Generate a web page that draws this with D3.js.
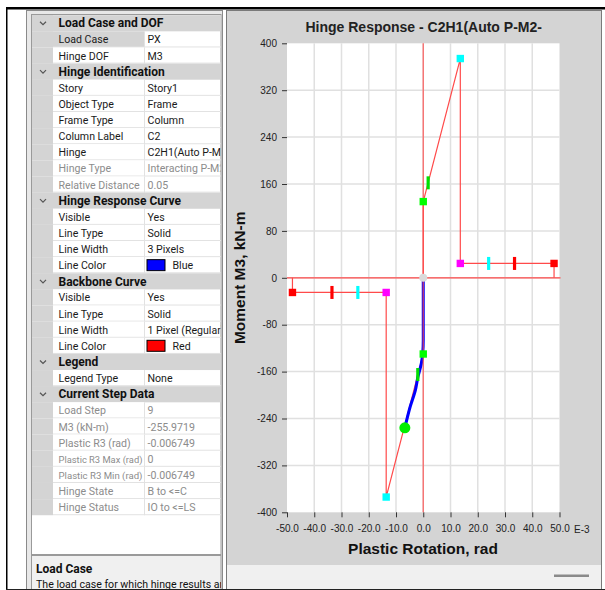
<!DOCTYPE html>
<html>
<head>
<meta charset="utf-8">
<script src="https://cdn.jsdelivr.net/npm/d3@7"></script>
<style>
  body { margin: 0; background: #fff; }
  svg { display: block; }
  .grid-txt { font-family: Roboto, "Noto Sans", sans-serif; font-size: 10.6px; }
  .grid-head { font-family: Roboto, "Noto Sans", sans-serif; font-size: 12px; font-weight: bold; }
  .axis text { font-family: "Liberation Sans", Arial, sans-serif; font-size: 10px; fill: #222; }
  .axis line { stroke: #333; }
</style>
</head>
<body>
<svg id="chart" width="605" height="590"></svg>
<script>
// property grid rows: kind (h = section, r = row, d = read-only row, c = colour row), name, value
let gridRows = [
  ["h", "Load Case and DOF"],
  ["r", "Load Case", "PX"],
  ["r", "Hinge DOF", "M3"],
  ["h", "Hinge Identification"],
  ["r", "Story", "Story1"],
  ["r", "Object Type", "Frame"],
  ["r", "Frame Type", "Column"],
  ["r", "Column Label", "C2"],
  ["r", "Hinge", "C2H1(Auto P-M2-M3)"],
  ["d", "Hinge Type", "Interacting P-M2-M3"],
  ["d", "Relative Distance", "0.05"],
  ["h", "Hinge Response Curve"],
  ["r", "Visible", "Yes"],
  ["r", "Line Type", "Solid"],
  ["r", "Line Width", "3 Pixels"],
  ["c", "Line Color", "Blue"],
  ["h", "Backbone Curve"],
  ["r", "Visible", "Yes"],
  ["r", "Line Type", "Solid"],
  ["r", "Line Width", "1 Pixel (Regular)"],
  ["c", "Line Color", "Red"],
  ["h", "Legend"],
  ["r", "Legend Type", "None"],
  ["h", "Current Step Data"],
  ["d", "Load Step", "9"],
  ["d", "M3 (kN-m)", "-255.9719"],
  ["d", "Plastic R3 (rad)", "-0.006749"],
  ["d", "Plastic R3 Max (rad)", "0"],
  ["d", "Plastic R3 Min (rad)", "-0.006749"],
  ["d", "Hinge State", "B to <=C"],
  ["d", "Hinge Status", "IO to <=LS"]
]
let helpTitle = "Load Case"
let helpText = "The load case for which hinge results are displayed."

// chart texts and ticks
let chartTitle = "Hinge Response - C2H1(Auto P-M2-"
let xTitle = "Plastic Rotation, rad"
let yTitle = "Moment M3, kN-m"
let xUnit = "E-3"
let xTicks = [-50, -40, -30, -20, -10, 0, 10, 20, 30, 40, 50]
let yTicks = [-400, -320, -240, -160, -80, 0, 80, 160, 240, 320, 400]

// backbone curve (rotation in E-3 rad, moment kN-m)
let backboneRot = [-48, -48, -13.6, -13.6, 0, 0, 0, 13.6, 13.6, 48, 48]
let backboneM = [0, -25, -25, -374, -130, 0, 130, 374, 24.5, 24.5, 0]

// hinge response curve
let responseRot = [0, 0, -0.2, -0.7, -1.95, -2.9, -4.8, -6.749]
let responseM = [0, -107, -129, -146, -169, -192, -220, -255.9719]

// backbone point markers (squares)
let squareRot = [0, 0, 13.6, -13.6, 13.6, -13.6, 48, -48]
let squareM = [130, -130, 374, -374, 24.5, -25, 24.5, -25]
let squareKind = ["B", "B", "C", "C", "D", "D", "E", "E"]

// acceptance criteria bars
let barRot = [1.8, -2, 24, -24, 33.5, -33.5]
let barM = [162, -165, 24.5, -25, 24.5, -25]
let barKind = ["IO", "IO", "LS", "LS", "CP", "CP"]

// current step
let stepRot = -6.749
let stepM = -255.9719

let kindColor = { B: "#00ff00", C: "#00ffff", D: "#ff00ff", E: "#ff0000", IO: "#00e000", LS: "#00ffff", CP: "#ff0000" }
let swatchColor = { Blue: "#0000ff", Red: "#ff0000" }

let hyphen = f => (d => f(d).replace("\u2212", "-"))

let svg = d3.select("#chart")

// ---------- outer frame ----------
svg.append("rect").attr("x", 6).attr("y", 7).attr("width", 599).attr("height", 2.5).attr("fill", "#000")
svg.append("rect").attr("x", 6).attr("y", 7).attr("width", 1.5).attr("height", 583).attr("fill", "#000")

// ---------- property grid ----------
let gx0 = 32, gx1 = 221, gCol = 144.5, gGut = 53
let rowTop = 15.2, rowH = 16.13
svg.append("rect").attr("x", 26.5).attr("y", 10.5).attr("width", 196).attr("height", 580)
  .attr("fill", "#e8e8e8").attr("stroke", "#8a8a8a")
svg.append("rect").attr("x", 31.5).attr("y", 14.5).attr("width", 189.5).attr("height", 540)
  .attr("fill", "#fff").attr("stroke", "#9a9a9a")

let defs = svg.append("defs")
defs.append("clipPath").attr("id", "clipVal").append("rect")
  .attr("x", gCol).attr("y", 0).attr("width", gx1 - gCol - 0.5).attr("height", 590)
defs.append("clipPath").attr("id", "clipHelp").append("rect")
  .attr("x", 32).attr("y", 556).attr("width", 189).attr("height", 33)

let rows = svg.append("g").selectAll("g").data(gridRows).enter().append("g")
  .attr("transform", (d, i) => `translate(0,${rowTop + i * rowH})`)

// gutter
rows.append("rect").attr("x", gx0).attr("y", 0).attr("width", gGut - gx0).attr("height", rowH).attr("fill", "#d4d4d4")

rows.filter(d => d[0] === "h").each(function(d) {
  let g = d3.select(this)
  g.append("rect").attr("x", gx0).attr("y", 0).attr("width", gx1 - gx0).attr("height", rowH).attr("fill", "#d4d4d4")
  g.append("path").attr("d", `M40,${rowH / 2 - 1.5} L43,${rowH / 2 + 1.5} L46,${rowH / 2 - 1.5}`)
    .attr("fill", "none").attr("stroke", "#555").attr("stroke-width", 1.2)
  g.append("text").attr("class", "grid-head").attr("x", 58.5).attr("y", rowH / 2 + 4.2).attr("fill", "#111").text(d[1])
})

rows.filter(d => d[0] !== "h").each(function(d, i) {
  let g = d3.select(this)
  let selected = d[1] === helpTitle && d[2] === "PX"
  g.append("rect").attr("x", gGut).attr("y", 0).attr("width", gCol - gGut).attr("height", rowH)
    .attr("fill", selected ? "#d4d4d4" : "#fff")
  g.append("line").attr("x1", gGut).attr("x2", gx1).attr("y1", rowH - 0.5).attr("y2", rowH - 0.5).attr("stroke", "#e2e2e2")
  g.append("line").attr("x1", gCol).attr("x2", gCol).attr("y1", 0).attr("y2", rowH).attr("stroke", "#e2e2e2")
  let col = d[0] === "d" ? "#8c8c8c" : "#1a1a1a"
  let name = g.append("text").attr("class", "grid-txt").attr("x", 58.5).attr("y", rowH / 2 + 4)
    .attr("fill", col).text(d[1])
  // shrink names that would run into the value column
  let room = gCol - 58.5 - 2
  let w = name.node().getComputedTextLength()
  if (w > room) name.style("font-size", (10.6 * room / w).toFixed(2) + "px")
  let vx = 147.5
  if (d[0] === "c") {
    g.append("rect").attr("x", 147).attr("y", 2.5).attr("width", 18).attr("height", 11)
      .attr("fill", swatchColor[d[2]]).attr("stroke", "#000")
    vx = 172.5
  }
  g.append("text").attr("class", "grid-txt").attr("x", vx).attr("y", rowH / 2 + 4)
    .attr("fill", col).attr("clip-path", "url(#clipVal)").text(d[2])
})

// help panel
svg.append("rect").attr("x", 31.5).attr("y", 555.5).attr("width", 189.5).attr("height", 35).attr("fill", "#f0f0f0").attr("stroke", "#9a9a9a")
let help = svg.append("g").attr("clip-path", "url(#clipHelp)")
help.append("text").attr("class", "grid-head").attr("x", 36).attr("y", 573).attr("fill", "#111").text(helpTitle)
help.append("text").attr("class", "grid-txt").attr("x", 36).attr("y", 588).attr("fill", "#111").text(helpText)

// ---------- chart panel ----------
svg.append("rect").attr("x", 226.5).attr("y", 10.5).attr("width", 375).attr("height", 580)
  .attr("fill", "#d4d4d4").attr("stroke", "#7a7a7a")
svg.append("rect").attr("x", 227).attr("y", 565).attr("width", 374).attr("height", 24).attr("fill", "#f0f0f0")
svg.append("rect").attr("x", 554).attr("y", 574.5).attr("width", 35).attr("height", 2.5).attr("fill", "#8a8a8a")
svg.append("line").attr("x1", 6).attr("x2", 605).attr("y1", 589.5).attr("y2", 589.5).attr("stroke", "#222")

let plot = { left: 287, right: 559.5, top: 43.3, bottom: 512.3 }
let x = d3.scaleLinear().domain([-50, 50]).range([plot.left, plot.right])
let y = d3.scaleLinear().domain([-400, 400]).range([plot.bottom, plot.top])

svg.append("rect").attr("x", plot.left).attr("y", plot.top)
  .attr("width", plot.right - plot.left).attr("height", plot.bottom - plot.top).attr("fill", "#fff")

// grid
svg.append("g").selectAll("line").data(xTicks.slice(1, -1)).enter().append("line")
  .attr("x1", d => x(d)).attr("x2", d => x(d)).attr("y1", plot.top).attr("y2", plot.bottom)
  .attr("stroke", "#e0e0e0").attr("stroke-width", 1.5)
svg.append("g").selectAll("line").data(yTicks.slice(1, -1)).enter().append("line")
  .attr("y1", d => y(d)).attr("y2", d => y(d)).attr("x1", plot.left).attr("x2", plot.right)
  .attr("stroke", "#e0e0e0").attr("stroke-width", 1.5)

// axes
let axisY = d3.axisLeft(y).tickValues(yTicks).tickSize(5).tickPadding(5).tickFormat(hyphen(d3.format("d")))
let axisX = d3.axisBottom(x).tickValues(xTicks).tickSize(5).tickPadding(8).tickFormat(hyphen(d3.format(".1f")))
svg.append("g").attr("class", "axis").attr("transform", `translate(${plot.left},0)`).call(axisY)
  .call(g => g.select(".domain").remove())
svg.append("g").attr("class", "axis").attr("transform", `translate(0,${plot.bottom})`).call(axisX)
  .call(g => g.select(".domain").remove())
svg.append("text").attr("x", plot.right + 14.5).attr("y", plot.bottom + 20.3)
  .attr("font-family", "Liberation Sans, Arial, sans-serif").attr("font-size", 10).attr("fill", "#222").text(xUnit)

// titles
svg.append("text").attr("x", 423.7).attr("y", 31.5).attr("text-anchor", "middle")
  .attr("font-family", "Liberation Sans, Arial, sans-serif").attr("font-size", 14).attr("font-weight", "bold")
  .attr("fill", "#222").text(chartTitle)
svg.append("text").attr("x", 423).attr("y", 553.5).attr("text-anchor", "middle")
  .attr("font-family", "Liberation Sans, Arial, sans-serif").attr("font-size", 15.5).attr("font-weight", "bold")
  .attr("fill", "#111").text(xTitle)
svg.append("text").attr("transform", `translate(244.5,${(plot.top + plot.bottom) / 2}) rotate(-90)`)
  .attr("text-anchor", "middle")
  .attr("font-family", "Liberation Sans, Arial, sans-serif").attr("font-size", 15.5).attr("font-weight", "bold")
  .attr("fill", "#111").text(yTitle)

// zero line (horizontal)
svg.append("line").attr("x1", plot.left).attr("x2", plot.right + 1).attr("y1", y(0)).attr("y2", y(0))
  .attr("stroke", "#ff4a4a").attr("stroke-width", 1.2)

// backbone
let backbone = backboneRot.map((r, i) => [r, backboneM[i]])
let line = d3.line().x(d => x(d[0])).y(d => y(d[1]))
svg.append("path").datum(backbone).attr("d", line)
  .attr("fill", "none").attr("stroke", "#ff4a4a").attr("stroke-width", 1.2)

// response curve
let response = responseRot.map((r, i) => [r, responseM[i]])
svg.append("path").datum(response).attr("d", d3.line().curve(d3.curveMonotoneY).x(d => x(d[0])).y(d => y(d[1])))
  .attr("fill", "none").attr("stroke", "#0000ff").attr("stroke-width", 3)

// zero line (vertical) drawn over the response, tints it purple
svg.append("line").attr("x1", x(0)).attr("x2", x(0)).attr("y1", plot.top).attr("y2", plot.bottom)
  .attr("stroke", "#ff4a4a").attr("stroke-width", 1.4).attr("opacity", 0.75)

// markers
svg.append("g").selectAll("rect").data(squareRot).enter().append("rect")
  .attr("x", (d, i) => x(d) - 3.7).attr("y", (d, i) => y(squareM[i]) - 3.7)
  .attr("width", 7.4).attr("height", 7.4).attr("fill", (d, i) => kindColor[squareKind[i]])
svg.append("g").selectAll("rect").data(barRot).enter().append("rect")
  .attr("x", (d, i) => x(d) - 1.6).attr("y", (d, i) => y(barM[i]) - 6.5)
  .attr("width", 3.2).attr("height", 13).attr("fill", (d, i) => kindColor[barKind[i]])

svg.append("circle").attr("cx", x(0)).attr("cy", y(0)).attr("r", 4).attr("fill", "#dadada")
svg.append("circle").attr("cx", x(stepRot)).attr("cy", y(stepM)).attr("r", 5.5).attr("fill", "#00ee00")
</script>
</body>
</html>
